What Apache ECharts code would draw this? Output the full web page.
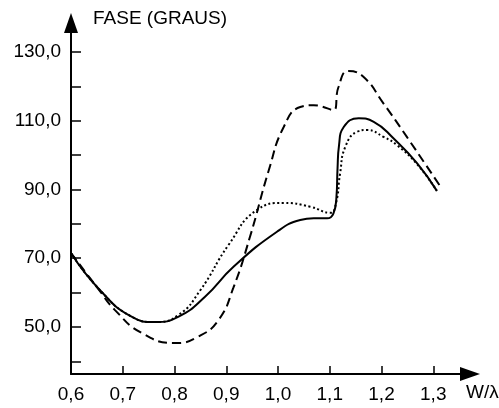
<!DOCTYPE html>
<html>
  <head>
    <meta charset="utf-8" />
    <title>Fase</title>
    <script src="https://cdn.jsdelivr.net/npm/echarts@6/dist/echarts.min.js"></script>
  </head>
  <body style="margin:0">
    <style>
      #main { width: 499px; height: 408px; }
    </style>
    <div id="main"></div>
    <script type="text/javascript">
      // values: [W/lambda, phase in degrees]
      var solidCurve = [
        [0.6, 71.5], [0.653, 61.2], [0.717, 53.0], [0.762, 51.4], [0.808, 53.0],
        [0.859, 58.8], [0.914, 67.5], [0.998, 77.7], [1.043, 81.1],
        [1.069, 81.6], [1.095, 81.6], [1.107, 83.0], [1.113, 88.0], [1.115, 96.0],
        [1.118, 103.0], [1.127, 108.2], [1.156, 110.7], [1.185, 109.7], [1.223, 104.9],
        [1.269, 97.6], [1.307, 89.6]
      ];
      var dashedCurve = [
        [0.6, 71.5], [0.653, 61.0], [0.685, 54.9], [0.737, 48.2], [0.801, 45.3],
        [0.846, 47.2], [0.885, 52.0], [0.914, 61.5], [0.946, 76.3],
        [0.982, 95.5], [1.011, 108.2], [1.043, 114.0], [1.069, 114.5],
        [1.107, 113.1], [1.117, 119.9], [1.136, 124.5], [1.165, 122.8], [1.204, 115.0],
        [1.249, 105.3], [1.314, 90.8]
      ];
      var dottedCurve = [
        [0.6, 71.5], [0.653, 61.2], [0.717, 53.0], [0.762, 51.4], [0.808, 53.5],
        [0.849, 60.5], [0.905, 74.0], [0.959, 84.0],
        [1.011, 86.1], [1.062, 85.0], [1.101, 83.2], [1.112, 86.0], [1.120, 94.7],
        [1.130, 102.4], [1.153, 106.8], [1.172, 107.3], [1.204, 105.3], [1.230, 102.9],
        [1.269, 97.3], [1.307, 89.6]
      ];
      var xLabels = [0.6, 0.7, 0.8, 0.9, 1.0, 1.1, 1.2, 1.3];
      var xTicks = [0.7, 0.8, 0.9, 1.0, 1.1, 1.2, 1.3];
      var yLabels = [50, 70, 90, 110, 130];
      var yTicks = [40, 50, 60, 70, 80, 90, 100, 110, 120, 130];

      var font = 'Liberation Sans';
      var fmt = function (v) { return v.toFixed(1).replace('.', ','); };

      var myChart = echarts.init(document.getElementById('main'));
      var option = {
        animation: false,
        grid: { left: 71, right: 29, top: 23, bottom: 34 },
        xAxis: {
          type: 'value',
          min: 0.6,
          max: 1.371,
          splitLine: { show: false },
          axisLine: {
            lineStyle: { color: '#000', width: 2 },
            symbol: ['none', 'triangle'],
            symbolSize: [14, 20]
          },
          axisTick: {
            inside: true, length: 8,
            lineStyle: { color: '#000', width: 1.5 },
            customValues: xTicks
          },
          axisLabel: {
            color: '#000', fontFamily: font, fontSize: 19, margin: 11,
            customValues: xLabels,
            formatter: fmt
          }
        },
        yAxis: {
          type: 'value',
          min: 36.3,
          max: 138.45,
          splitLine: { show: false },
          axisLine: {
            show: true,
            lineStyle: { color: '#000', width: 2 },
            symbol: ['none', 'triangle'],
            symbolSize: [14, 20]
          },
          axisTick: {
            show: true, inside: true, length: 10,
            lineStyle: { color: '#000', width: 1.5 },
            customValues: yTicks
          },
          axisLabel: {
            color: '#000', fontFamily: font, fontSize: 19, margin: 10,
            customValues: yLabels,
            formatter: fmt
          }
        },
        graphic: [
          {
            type: 'text', left: 93, top: 9,
            style: { text: 'FASE (GRAUS)', fill: '#000', font: '19px "Liberation Sans"' }
          },
          {
            type: 'text', left: 466, top: 383,
            style: { text: 'W/λ', fill: '#000', font: '19px "Liberation Sans"' }
          }
        ],
        series: [
          {
            type: 'line', data: dottedCurve, symbol: 'none',
            smooth: 0.5,
            lineStyle: { color: '#000', width: 2, type: [2, 2.5] }
          },
          {
            type: 'line', data: dashedCurve, symbol: 'none',
            smooth: 0.5,
            lineStyle: { color: '#000', width: 2, type: [9, 5] }
          },
          {
            type: 'line', data: solidCurve, symbol: 'none',
            smooth: 0.5,
            lineStyle: { color: '#000', width: 2 }
          }
        ]
      };
      myChart.setOption(option);
    </script>
  </body>
</html>
